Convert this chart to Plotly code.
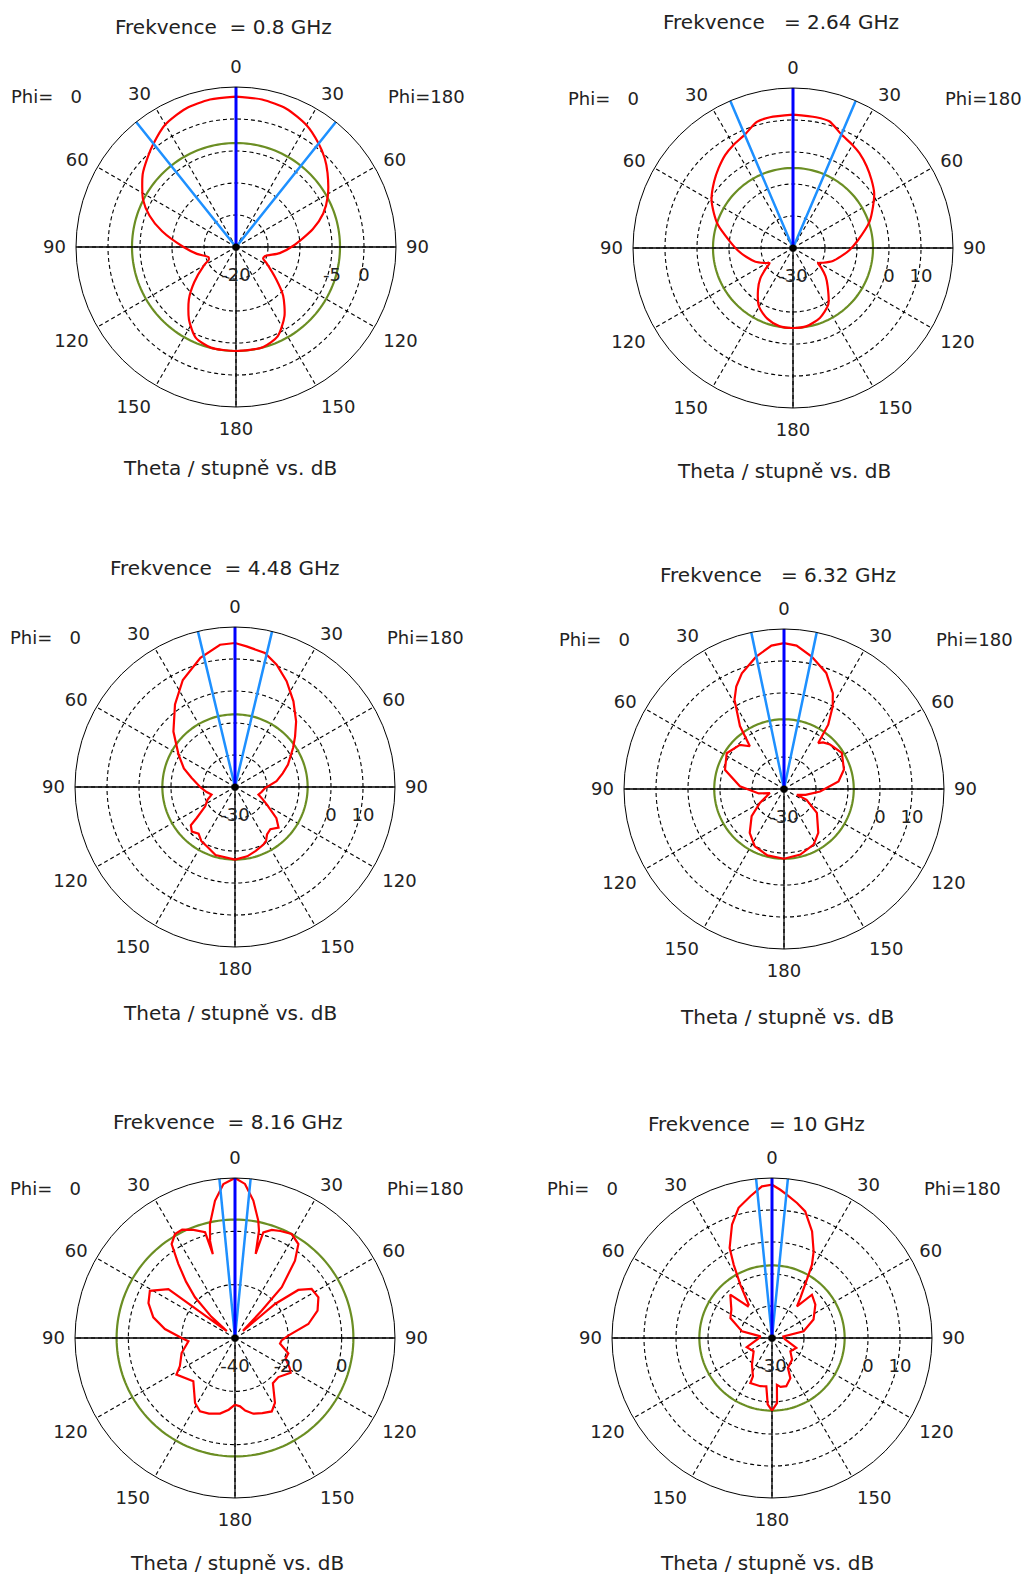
import numpy as np
import plotly.graph_objects as go

W, H = 1027, 1579

# ---------------- data ----------------
freq_ghz = ["0.8", "2.64", "4.48", "6.32", "8.16", "10"]

r_ranges = [[-20, 5], [-30, 20], [-30, 20], [-30, 20], [-40, 20], [-30, 20]]
r_tickvals = [
    [-20, -15, -10, -5, 0, 5],
    [-30, -20, -10, 0, 10, 20],
    [-30, -20, -10, 0, 10, 20],
    [-30, -20, -10, 0, 10, 20],
    [-40, -20, 0, 20],
    [-30, -20, -10, 0, 10, 20],
]
r_ticktext = [
    ["-20", "", "", "-5", "0", ""],
    ["-30", "", "", "0", "10", ""],
    ["-30", "", "", "0", "10", ""],
    ["-30", "", "", "0", "10", ""],
    ["-40", "-20", "0", ""],
    ["-30", "", "", "0", "10", ""],
]
# level of the reference circle (dB) and half beamwidth (deg)
green_level = [-3.75, -5.0, -7.3, -8.2, 4.4, -7.3]
half_beam = [38.6, 23.1, 13.4, 11.8, 5.6, 5.7]

angle_ticks = [0, 30, 60, 90, 120, 150, 180, 210, 240, 270, 300, 330]
angle_text = ["0", "30", "60", "90", "120", "150", "180", "150", "120", "90", "60", "30"]

# ---- 0.8 GHz ----
f1_th0 = [0, 10, 20, 30, 39, 45, 52, 63, 70, 78, 90, 100, 110, 115, 120, 130, 138, 147, 156, 166, 180]
f1_db0 = [3.5, 3.4, 3.0, 2.1, 0.6, -0.4, -1.5, -3.7, -5.6, -8.2, -11.8, -13.8, -15.4, -15.3, -14.2, -11.5, -9.0, -6.5, -4.5, -3.8, -3.75]
f1_th180 = [0, 10, 20, 30, 38.5, 45, 51, 61, 69, 77, 89, 98, 108, 113, 118, 129, 136, 145, 155, 165, 180]
f1_db180 = [3.5, 3.4, 3.0, 2.0, 0.7, -0.4, -1.6, -3.6, -5.4, -7.7, -11.1, -13.1, -15.3, -15.4, -14.6, -11.9, -9.4, -6.8, -4.6, -3.8, -3.75]

# ---- 2.64 GHz ----
f2_th0 = [0, 10, 16, 23, 30, 36, 43, 50, 59, 66, 73, 83, 92, 101, 110, 118, 123, 127, 133, 140, 150, 160, 170, 180]
f2_db0 = [11.7, 11.5, 11.0, 8.5, 7.2, 6.0, 4.1, 2.2, -0.3, -2.9, -5.5, -9.8, -12.6, -15.2, -17.5, -20.0, -21.3, -19.4, -16.0, -13.0, -8.8, -6.5, -5.2, -5.0]
f2_th180 = [0, 10, 16, 23, 30, 35, 42, 49, 56, 62.5, 71, 83, 92, 100, 108, 116, 121, 125, 131, 138, 148, 159, 170, 180]
f2_db180 = [11.7, 11.5, 11.2, 8.6, 7.2, 6.2, 4.4, 2.5, 0.6, -1.8, -4.7, -9.5, -12.3, -14.8, -16.9, -19.5, -20.9, -19.2, -16.5, -13.8, -9.2, -6.6, -5.2, -5.0]

# ---- 4.48 GHz ----
f3_th0 = [0, 6, 15, 26, 36, 48, 60, 70, 78, 90, 100, 108, 115, 123, 129, 131, 136, 142, 148, 156, 164, 180]
f3_db0 = [15.0, 14.7, 11.8, 7.2, 1.9, -4.1, -9.6, -13.0, -16.1, -19.1, -21.0, -22.3, -20.5, -18.9, -14.6, -11.7, -10.6, -11.5, -10.1, -9.3, -7.9, -7.3]
f3_th180 = [0, 4.7, 12.6, 18.8, 26, 34.3, 43, 50, 56, 67, 74, 82, 92, 100, 108, 114, 119, 127, 133, 140, 146, 150, 154, 162, 170, 180]
f3_db180 = [15.0, 14.1, 12.9, 10.4, 6.8, 2.4, -2.0, -5.5, -8.1, -12.0, -14.5, -16.9, -20.6, -21.5, -22.3, -20.5, -18.6, -13.8, -11.4, -12.8, -12.1, -10.6, -9.9, -9.0, -8.0, -7.3]

# ---- 6.32 GHz ----
f4_th0 = [0, 5, 12, 20, 25, 29, 35, 38.6, 45, 58, 72, 86.5, 100, 106, 120, 130, 142, 153, 166, 180]
f4_db0 = [15.6, 15.0, 12.2, 8.5, 5.3, 1.9, -6.0, -12.9, -10.5, -8.9, -10.6, -16.2, -22.0, -25.4, -21.3, -16.8, -12.6, -9.9, -8.6, -8.2]
f4_th180 = [0, 5, 11.8, 20, 27, 30.5, 34.5, 36.7, 40, 46, 58, 72, 82, 94, 105, 114, 115.5, 126, 142, 152, 166, 180]
f4_db180 = [15.6, 15.0, 12.3, 8.6, 3.6, 0.0, -5.6, -12.1, -11.0, -10.0, -8.7, -10.3, -12.8, -18.7, -23.0, -25.6, -22.2, -17.3, -12.6, -10.3, -8.9, -8.2]

# ---- 8.16 GHz ----
f5_th0 = [0, 4.3, 8.3, 12.4, 14.4, 14.8, 15.8, 21, 26, 30, 34, 37.4, 41, 44.5, 48, 50, 53.7, 61, 68, 75.8, 82.7, 90, 94, 105.7, 117, 122, 136, 148.4, 154.5, 161, 168.8, 175, 180]
f5_db0 = [20.0, 17.9, 12.0, 3.75, -2.4, -7.5, 1.2, 3.4, 5.2, 5.0, 2.5, -5.0, -12.0, -18.6, -28.0, -36.0, -9.0, -3.5, -5.0, -8.4, -13.5, -20.0, -22.5, -19.2, -16.8, -14.1, -17.5, -11.4, -9.5, -10.0, -11.1, -13.0, -15.0]
f5_th180 = [0, 3.7, 7.6, 11.2, 12.6, 13.8, 15, 18.8, 23, 28.6, 34, 37.8, 42.6, 44.3, 48, 49.6, 52.8, 57.4, 64, 71.7, 79.2, 87.5, 93, 97, 106, 112, 119, 122, 132, 140, 148.4, 153.4, 160, 166.4, 172, 175.8, 180]
f5_db180 = [20.0, 17.9, 12.0, 4.9, 1.25, -7.5, 1.0, 2.8, 3.6, 4.4, 2.5, -3.3, -14.1, -25.6, -36.0, -20.3, -10.2, -5.9, -5.2, -7.4, -12.0, -20.0, -22.5, -23.0, -19.2, -19.5, -16.5, -15.4, -18.1, -17.9, -11.4, -9.2, -10.0, -10.8, -12.5, -14.3, -15.0]

# ---- 10 GHz ----
f6_th0 = [0, 3.8, 8.7, 14.4, 19.4, 25.2, 27.6, 30.7, 35, 37.2, 43.9, 55, 64.4, 77.5, 82, 95, 110, 126, 143, 153.6, 154.3, 166.4, 173.3, 176.3, 180]
f6_db0 = [17.9, 17.5, 14.8, 12.0, 7.6, 1.1, -4.2, -10.6, -17.3, -17.5, -11.2, -14.5, -15.6, -20.4, -26.4, -25.5, -21.6, -22.9, -19.6, -16.6, -14.4, -14.5, -14.8, -9.2, -7.3]
f6_th180 = [0, 3.2, 6, 10.5, 14.7, 20.6, 25.7, 28.6, 30, 35.3, 38.3, 42.7, 52.4, 66, 78, 82, 95, 112, 126, 137, 152, 155.4, 163.5, 170, 174, 175.6, 180]
f6_db180 = [17.9, 16.4, 15.0, 12.9, 10.9, 5.6, 0.0, -3.9, -7.1, -14.7, -17.4, -11.6, -12.9, -15.8, -19.9, -26.4, -26.0, -21.8, -22.9, -20.8, -19.4, -16.2, -14.3, -14.5, -15.3, -9.6, -7.3]

curves = [
    (f1_th0, f1_db0, f1_th180, f1_db180),
    (f2_th0, f2_db0, f2_th180, f2_db180),
    (f3_th0, f3_db0, f3_th180, f3_db180),
    (f4_th0, f4_db0, f4_th180, f4_db180),
    (f5_th0, f5_db0, f5_th180, f5_db180),
    (f6_th0, f6_db0, f6_th180, f6_db180),
]
# smooth (spline) rendering for the smooth low-frequency patterns
curve_shape = ["spline", "spline", "linear", "linear", "linear", "linear"]

NB = "\u00a0"
title_gap = [(NB * 2, NB), (NB * 3, NB), (NB * 2, NB), (NB * 3, NB), (NB * 2, NB), (NB * 3, NB)]

# ---------------- layout geometry (pixels) ----------------
centers = [(236, 247), (793, 248), (235, 787), (784, 789), (235, 1338), (772, 1338)]
RADIUS = 160
title_pos = [(223, 27), (781, 22), (225, 568), (778, 575), (228, 1122), (756, 1124)]
xlabel_pos = [(230, 468), (784, 471), (230, 1013), (787, 1017), (237, 1563), (767, 1563)]

FONT = "DejaVu Sans"
TXT = "#222222"

fig = go.Figure()
annotations = []


def px(x, y):
    return x / W, 1 - y / H


for i in range(6):
    pname = "polar" if i == 0 else f"polar{i + 1}"
    sub = pname
    lo, hi = r_ranges[i]
    th0, db0, th180, db180 = curves[i]

    # reference circle
    circ_t = np.linspace(0, 360, 181)
    fig.add_trace(go.Scatterpolar(r=[green_level[i]] * len(circ_t), theta=circ_t, mode="lines",
                                  line=dict(color="#6B8E23", width=2.2), subplot=sub,
                                  showlegend=False, hoverinfo="skip"))
    # solid principal axes
    fig.add_trace(go.Scatterpolar(r=[hi, lo, hi], theta=[270, 0, 90], mode="lines",
                                  line=dict(color="black", width=1.3), subplot=sub,
                                  showlegend=False, hoverinfo="skip"))
    fig.add_trace(go.Scatterpolar(r=[lo, hi], theta=[180, 180], mode="lines",
                                  line=dict(color="black", width=1.3), subplot=sub,
                                  showlegend=False, hoverinfo="skip"))
    # pattern
    theta_all = [360 - t for t in th0[::-1]] + list(th180)
    r_all = list(db0[::-1]) + list(db180)
    line_kw = dict(color="#FF0000", width=2.2, shape=curve_shape[i])
    if curve_shape[i] == "spline":
        line_kw["smoothing"] = 0.7
    fig.add_trace(go.Scatterpolar(r=r_all, theta=theta_all, mode="lines",
                                  line=line_kw, subplot=sub,
                                  showlegend=False, hoverinfo="skip"))
    # beamwidth lines
    hb = half_beam[i]
    fig.add_trace(go.Scatterpolar(r=[hi, lo, hi], theta=[360 - hb, 0, hb], mode="lines",
                                  line=dict(color="#1E90FF", width=2.5), subplot=sub,
                                  showlegend=False, hoverinfo="skip"))
    fig.add_trace(go.Scatterpolar(r=[lo, hi], theta=[0, 0], mode="lines",
                                  line=dict(color="#0000FF", width=3), subplot=sub,
                                  showlegend=False, hoverinfo="skip"))
    fig.add_trace(go.Scatterpolar(r=[lo], theta=[0], mode="markers",
                                  marker=dict(color="black", size=7), subplot=sub,
                                  showlegend=False, hoverinfo="skip"))

    cx, cy = centers[i]
    x0, y1 = px(cx - RADIUS, cy - RADIUS)
    x1, y0 = px(cx + RADIUS, cy + RADIUS)
    fig.layout[pname] = dict(
        domain=dict(x=[x0, x1], y=[y0, y1]),
        bgcolor="white",
        angularaxis=dict(
            rotation=90, direction="clockwise",
            tickmode="array", tickvals=angle_ticks, ticktext=angle_text,
            showgrid=True, gridcolor="black", gridwidth=1.1, griddash="4px,3px",
            showline=True, linecolor="black", linewidth=1,
            ticks="outside", ticklen=6, tickcolor="rgba(0,0,0,0)",
            tickfont=dict(family=FONT, size=18, color=TXT),
        ),
        radialaxis=dict(
            range=[lo, hi], tickmode="array", tickvals=r_tickvals[i], ticktext=r_ticktext[i],
            angle=0, side="clockwise",
            showgrid=True, gridcolor="black", gridwidth=1.1, griddash="4px,3px",
            showline=False, ticks="outside", ticklen=12, tickcolor="rgba(0,0,0,0)",
            tickfont=dict(family=FONT, size=18, color=TXT),
        ),
    )

    a, b = title_gap[i]
    tx, ty = px(*title_pos[i])
    annotations.append(dict(x=tx, y=ty, xref="paper", yref="paper", showarrow=False,
                            text=f"Frekvence{a}={b}{freq_ghz[i]} GHz",
                            font=dict(family=FONT, size=20, color=TXT),
                            xanchor="center", yanchor="middle"))
    lx, ly = px(*xlabel_pos[i])
    annotations.append(dict(x=lx, y=ly, xref="paper", yref="paper", showarrow=False,
                            text="Theta / stupně vs. dB",
                            font=dict(family=FONT, size=20, color=TXT),
                            xanchor="center", yanchor="middle"))
    p0x, p0y = px(cx - 190, cy - 150)
    annotations.append(dict(x=p0x, y=p0y, xref="paper", yref="paper", showarrow=False,
                            text="Phi=" + NB * 3 + "0",
                            font=dict(family=FONT, size=18, color=TXT),
                            xanchor="center", yanchor="middle"))
    p1x, p1y = px(cx + 190, cy - 150)
    annotations.append(dict(x=p1x, y=p1y, xref="paper", yref="paper", showarrow=False,
                            text="Phi=180",
                            font=dict(family=FONT, size=18, color=TXT),
                            xanchor="center", yanchor="middle"))

fig.update_layout(
    width=W, height=H,
    margin=dict(l=0, r=0, t=0, b=0),
    paper_bgcolor="white", plot_bgcolor="white",
    showlegend=False,
    annotations=annotations,
    font=dict(family=FONT, color=TXT),
)

fig.write_html("out.html",
               config={"displayModeBar": False, "staticPlot": True},
               post_script="document.body.style.margin='0px';document.body.style.padding='0px';"
                           "document.body.style.overflow='hidden';")
